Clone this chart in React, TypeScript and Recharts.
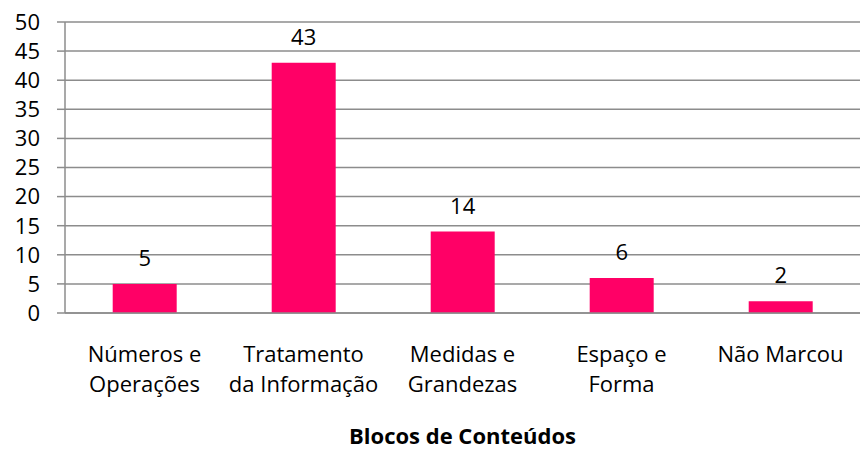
import { BarChart, Bar, XAxis, YAxis, CartesianGrid, LabelList } from "recharts";

const categories = ["Números e|Operações", "Tratamento|da Informação", "Medidas e|Grandezas", "Espaço e|Forma", "Não Marcou"];
const values = [5, 43, 14, 6, 2];
const yTicks = [0, 5, 10, 15, 20, 25, 30, 35, 40, 45, 50];

const data = categories.map((c, i) => ({ name: c, value: values[i] }));

const FONT = "'Open Sans', Lato, sans-serif";

function CatTick({ x, y, payload }: any) {
  const lines = String(payload.value).split("|");
  return (
    <text x={x} y={y} textAnchor="middle" fill="#000" fontSize={22} fontFamily={FONT}>
      {lines.map((l, i) => (
        <tspan key={i} x={x} dy={i === 0 ? 41 : 30}>{l}</tspan>
      ))}
    </text>
  );
}

export default function App() {
  return (
    <div style={{ position: "absolute", left: 0, top: 0, width: 860, height: 449, background: "#fff" }}>
      <BarChart
        width={860}
        height={449}
        data={data}
        margin={{ top: 22, right: 0, left: 0, bottom: 0 }}
        barCategoryGap="30%"
      >
        <CartesianGrid vertical={false} stroke="#8c8c8c" strokeWidth={1.5} />
        <XAxis
          dataKey="name"
          height={136}
          tickLine={false}
          axisLine={{ stroke: "#8c8c8c", strokeWidth: 1.5 }}
          tick={<CatTick />}
          interval={0}
          label={{ value: "Blocos de Conteúdos", position: "insideBottom", offset: 5, fill: "#000", fontSize: 22, fontWeight: "bold", fontFamily: FONT }}
        />
        <YAxis
          domain={[0, 50]}
          ticks={yTicks}
          width={65}
          tickSize={8}
          tickMargin={17}
          tickLine={{ stroke: "#8c8c8c", strokeWidth: 1.5 }}
          axisLine={{ stroke: "#8c8c8c", strokeWidth: 1.5 }}
          tick={{ fill: "#000", fontSize: 22, fontFamily: FONT }}
          interval={0}
        />
        <Bar dataKey="value" fill="#FF0066" isAnimationActive={false}>
          <LabelList dataKey="value" position="top" offset={18} fill="#000" fontSize={22} fontFamily={FONT} />
        </Bar>
      </BarChart>
    </div>
  );
}
